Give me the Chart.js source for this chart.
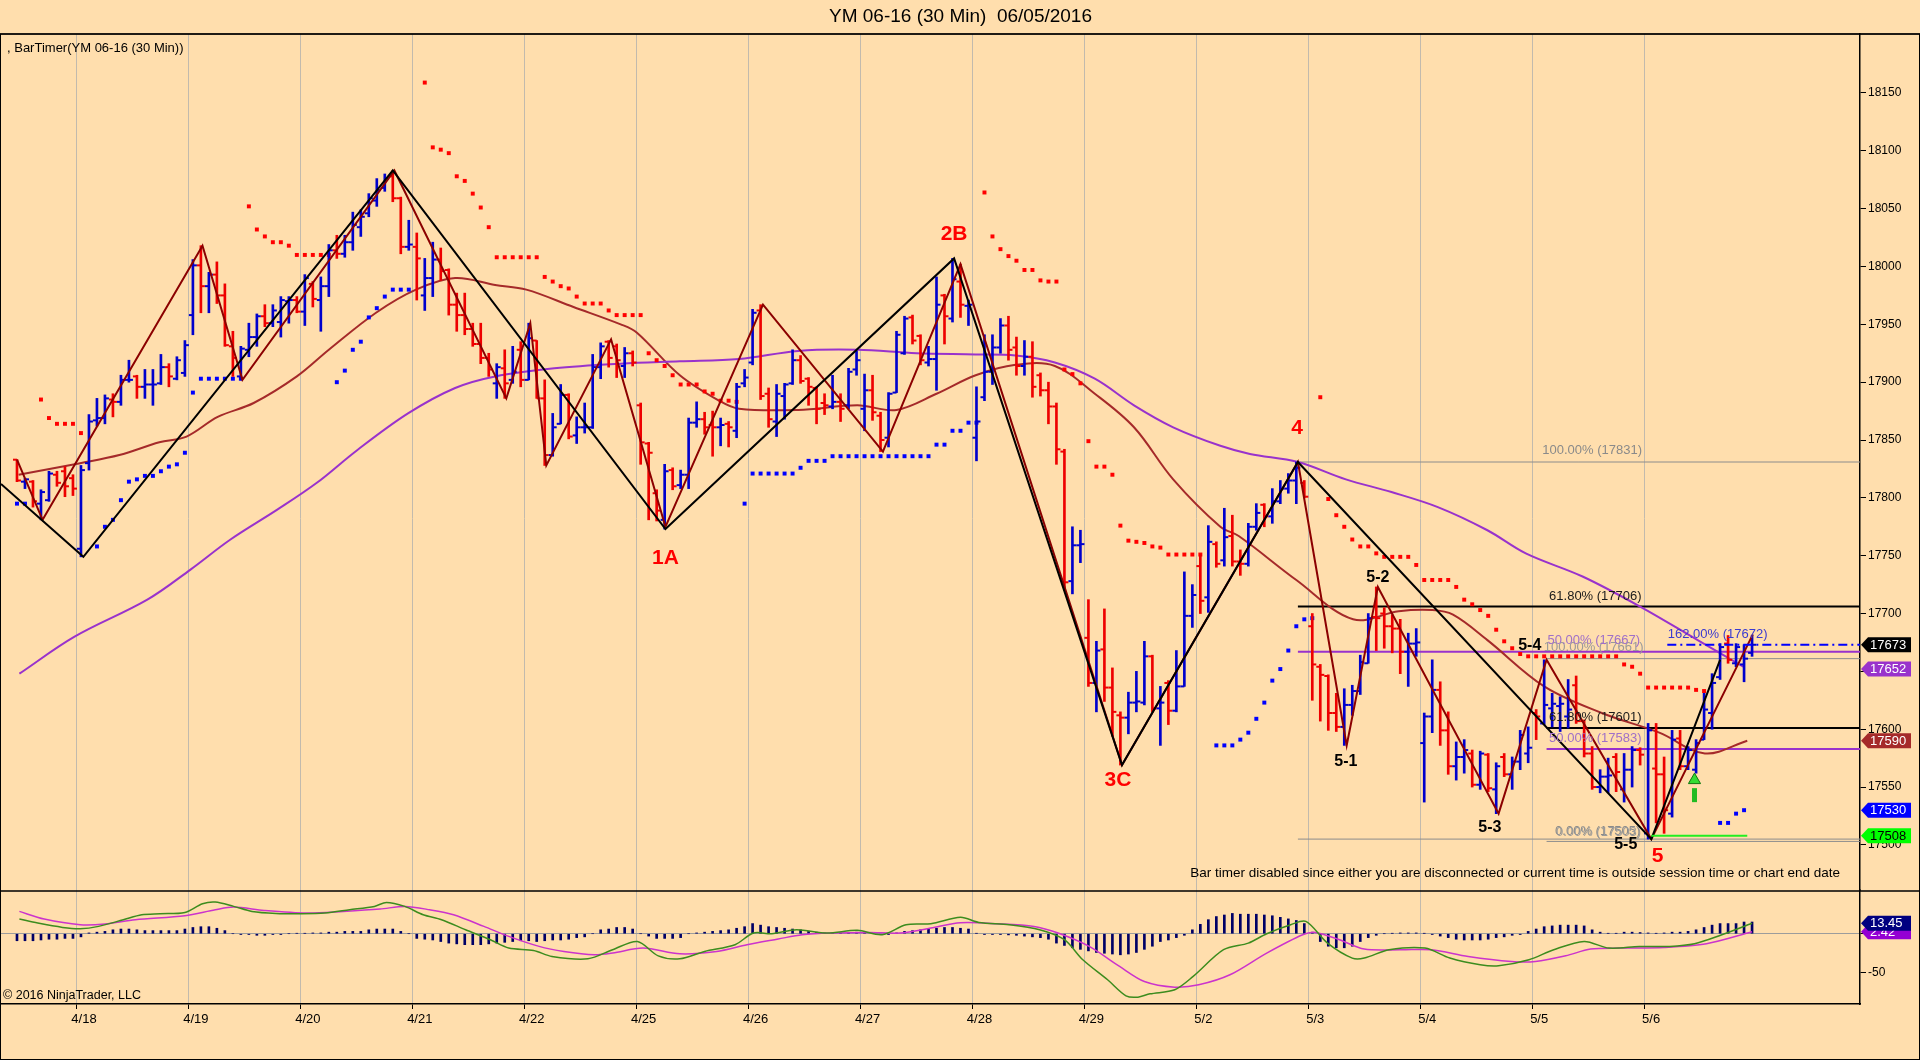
<!DOCTYPE html>
<html>
<head>
<meta charset="utf-8">
<title>YM 06-16 (30 Min)</title>
<script src="https://cdn.jsdelivr.net/npm/chart.js@4.4.1/dist/chart.umd.min.js"></script>
<style>
  html, body { margin: 0; padding: 0; background: #FFDEAD; overflow: hidden; }
  #wrap { position: relative; width: 1920px; height: 1060px; }
  canvas { display: block; }
</style>
</head>
<body>
<div id="wrap"><canvas id="chart" width="1920" height="1060"></canvas></div>
<script>
const FONT = '"Liberation Sans", Arial, sans-serif';
const UP = '#0000CD';
const DOWN = '#EE0000';

// x is the bar index (30 min bars, 14 per session, 4/15 tail = bars 0..9)
const dayLabels = ['4/18', '4/19', '4/20', '4/21', '4/22', '4/25', '4/26', '4/27', '4/28', '4/29', '5/2', '5/3', '5/4', '5/5', '5/6'];
const priceTicks = [17500, 17550, 17600, 17650, 17700, 17750, 17800, 17850, 17900, 17950, 18000, 18050, 18100, 18150];
const macdTicks = [0, -50];

const opens = [
  null, null, 17833, 17814, 17814, 17795, 17798, 17820, 17823, 17817,
  17756, 17830, 17867, 17869, 17885, 17883, 17902, 17905, 17896, 17898, 17899, 17913, 17903, 17908,
  17958, 18001, 17983, 17993, 17975, 17931, 17905, 17928, 17939, 17957, 17951, 17952, 17970, 17971,
  17961, 17985, 17971, 17983, 18014, 18011, 18021, 18034, 18046, 18057, 18068, 18078, 18059, 18017,
  18017, 17975, 17990, 18006, 17997, 17967, 17958, 17946, 17933, 17921, 17899, 17912, 17902, 17928,
  17902, 17936, 17886, 17837, 17864, 17889, 17854, 17861, 17861, 17913, 17935, 17931, 17914, 17925,
  17880, 17847, 17804, 17781, 17824, 17811, 17820, 17865, 17868, 17863, 17861, 17864, 17858, 17899,
  17917, 17962, 17890, 17866, 17888, 17899, 17919, 17903, 17895, 17882, 17879, 17883, 17880, 17911,
  17877, 17893, 17871, 17852, 17891, 17925, 17956, 17940, 17917, 17920, 17975, 17955, 17987, 17966,
  17852, 17887, 17909, 17930, 17949, 17930, 17914, 17922, 17906, 17893, 17879, 17840, 17728, 17759,
  17679, 17640, 17669, 17636, 17612, 17610, 17623, 17623, 17663, 17618, 17640, 17616, 17637, 17698,
  17741, 17714, 17760, 17746, 17767, 17745, 17743, 17775, 17794, 17784, 17797, 17808, 17815, 17813,
  17689, 17654, 17646, 17614, 17602, 17621, 17633, 17657, 17697, 17700, 17689, 17687, 17667, 17674,
  17588, 17611, 17634, 17599, 17568, 17576, 17579, 17552, 17578, 17548, 17576, 17561, 17572, 17579,
  17614, 17605, 17618, 17620, 17611, 17638, 17607, 17579, 17550, 17559, 17576, 17548, 17565, 17582,
  17510, 17566, 17561, 17527, 17592, 17568, 17565, 17591, 17614, 17645, 17674, 17657, 17656, 17666
];
const highs = [
  null, null, 17833, 17817, 17815, 17807, 17823, 17823, 17827, 17820,
  17828, 17872, 17886, 17889, 17890, 17906, 17919, 17906, 17911, 17911, 17924, 17916, 17922, 17936,
  18006, 18018, 17995, 18004, 17985, 17944, 17931, 17951, 17959, 17967, 17967, 17974, 17974, 17974,
  17993, 17987, 17991, 18019, 18027, 18027, 18047, 18049, 18063, 18076, 18080, 18083, 18060, 18040,
  18029, 18007, 18021, 18016, 17998, 17977, 17977, 17951, 17951, 17925, 17916, 17928, 17931, 17935,
  17951, 17936, 17902, 17873, 17898, 17890, 17870, 17882, 17924, 17934, 17936, 17933, 17930, 17927,
  17882, 17848, 17807, 17829, 17826, 17824, 17869, 17883, 17874, 17875, 17869, 17866, 17899, 17911,
  17963, 17967, 17895, 17898, 17899, 17928, 17923, 17904, 17896, 17890, 17906, 17890, 17912, 17927,
  17907, 17906, 17874, 17891, 17944, 17957, 17958, 17941, 17931, 17991, 17976, 18007, 18002, 17971,
  17896, 17941, 17941, 17955, 17957, 17939, 17936, 17935, 17908, 17900, 17882, 17842, 17775, 17772,
  17712, 17676, 17704, 17653, 17615, 17632, 17650, 17676, 17664, 17637, 17642, 17668, 17736, 17725,
  17751, 17776, 17762, 17791, 17785, 17755, 17778, 17795, 17795, 17808, 17815, 17821, 17831, 17815,
  17700, 17656, 17647, 17631, 17635, 17638, 17664, 17700, 17723, 17705, 17699, 17695, 17683, 17687,
  17614, 17660, 17641, 17615, 17589, 17591, 17582, 17581, 17579, 17571, 17579, 17576, 17599, 17602,
  17617, 17660, 17631, 17628, 17643, 17646, 17608, 17585, 17565, 17575, 17579, 17579, 17585, 17584,
  17605, 17605, 17576, 17599, 17599, 17585, 17591, 17631, 17648, 17674, 17681, 17674, 17673, 17681
];
const lows = [
  null, null, 17814, 17808, 17792, 17781, 17797, 17810, 17801, 17802,
  17749, 17824, 17862, 17864, 17870, 17880, 17900, 17886, 17886, 17880, 17898, 17896, 17902, 17905,
  17941, 17960, 17960, 17968, 17931, 17905, 17902, 17922, 17931, 17948, 17948, 17939, 17951, 17960,
  17949, 17965, 17944, 17974, 18007, 18008, 18014, 18026, 18043, 18052, 18065, 18056, 18011, 18014,
  17971, 17962, 17974, 17988, 17958, 17944, 17941, 17931, 17916, 17905, 17886, 17886, 17899, 17896,
  17902, 17886, 17828, 17836, 17864, 17851, 17847, 17856, 17860, 17903, 17913, 17904, 17904, 17914,
  17829, 17781, 17780, 17773, 17807, 17808, 17808, 17861, 17855, 17836, 17845, 17844, 17852, 17896,
  17915, 17885, 17861, 17853, 17868, 17898, 17899, 17880, 17864, 17872, 17877, 17866, 17877, 17906,
  17858, 17867, 17840, 17844, 17891, 17924, 17933, 17915, 17914, 17893, 17933, 17952, 17956, 17949,
  17832, 17884, 17898, 17925, 17919, 17906, 17906, 17887, 17888, 17864, 17829, 17720, 17717, 17744,
  17637, 17615, 17624, 17594, 17569, 17596, 17615, 17621, 17615, 17586, 17604, 17615, 17637, 17688,
  17700, 17701, 17740, 17741, 17741, 17733, 17741, 17772, 17775, 17778, 17795, 17804, 17795, 17800,
  17625, 17607, 17599, 17598, 17586, 17612, 17630, 17657, 17668, 17670, 17666, 17648, 17637, 17663,
  17537, 17597, 17586, 17561, 17556, 17562, 17550, 17548, 17546, 17527, 17559, 17548, 17565, 17571,
  17591, 17604, 17602, 17598, 17601, 17605, 17576, 17548, 17545, 17545, 17546, 17537, 17550, 17569,
  17505, 17519, 17510, 17524, 17565, 17565, 17562, 17591, 17600, 17643, 17657, 17654, 17641, 17663
];
const closes = [
  null, null, 17815, 17816, 17797, 17805, 17821, 17813, 17810, 17808,
  17824, 17866, 17869, 17886, 17883, 17902, 17902, 17896, 17898, 17898, 17913, 17905, 17919, 17932,
  18001, 17983, 17993, 17975, 17932, 17921, 17929, 17939, 17957, 17951, 17962, 17971, 17971, 17961,
  17990, 17972, 17983, 18014, 18011, 18021, 18036, 18043, 18059, 18066, 18076, 18059, 18017, 18019,
  18007, 17990, 18006, 17996, 17967, 17958, 17946, 17933, 17921, 17911, 17913, 17899, 17909, 17902,
  17938, 17886, 17837, 17861, 17889, 17853, 17861, 17861, 17913, 17931, 17921, 17919, 17925, 17917,
  17848, 17839, 17789, 17823, 17810, 17820, 17865, 17868, 17861, 17861, 17863, 17861, 17896, 17904,
  17960, 17888, 17868, 17890, 17898, 17919, 17901, 17896, 17877, 17880, 17883, 17877, 17909, 17919,
  17893, 17874, 17850, 17890, 17941, 17955, 17936, 17919, 17920, 17967, 17957, 17989, 17967, 17967,
  17866, 17909, 17930, 17949, 17928, 17914, 17922, 17896, 17893, 17879, 17842, 17727, 17759, 17760,
  17640, 17668, 17636, 17615, 17610, 17623, 17624, 17663, 17618, 17623, 17616, 17637, 17698, 17716,
  17711, 17762, 17743, 17766, 17745, 17743, 17775, 17787, 17784, 17797, 17808, 17815, 17826, 17801,
  17656, 17647, 17614, 17602, 17621, 17633, 17658, 17696, 17696, 17689, 17687, 17667, 17674, 17675,
  17611, 17634, 17599, 17568, 17576, 17582, 17552, 17579, 17549, 17568, 17561, 17572, 17595, 17584,
  17611, 17621, 17622, 17622, 17617, 17607, 17579, 17550, 17559, 17560, 17563, 17565, 17582, 17578,
  17599, 17561, 17530, 17591, 17568, 17582, 17588, 17617, 17640, 17671, 17660, 17671, 17661, 17673
];

// MACD histogram, one value per bar
const histogram = [
  null, null, -9, -9, -9, -8, -7, -7, -6, -6,
  -4, 1, 2, 3, 5, 6, 6, 5, 4, 4, 4, 4, 4, 6,
  8, 9, 9, 7, 4, 0, -1, -1, -2, -2, -1, -1, 0, 0.5,
  0.5, 1, 1, 2, 2, 3, 3, 3, 5, 6, 6, 6, 3, 0,
  -6, -7, -8, -10, -12, -13, -14, -14, -14, -13, -12, -11, -10, -9,
  -9, -10, -9, -8, -8, -7, -5, -4, 0, 5, 6, 8, 8, 6,
  0, -3, -6, -6, -6, -5, 0, 1, 2, 3, 4, 5, 7, 9,
  13, 11, 9, 8, 7, 6, 5, 3, 2, 1, 0.5, 0.5, 1, 2,
  1, 0.5, -1, -1, 1, 3, 4, 5, 6, 7, 8, 8, 7, 6,
  0.5, -1, -1, -1, -1.5, -2, -3, -4, -5, -7, -12, -15, -18, -20,
  -22, -24, -25, -26, -27, -26, -24, -20, -16, -10, -8, -5, -2, 5,
  12, 18, 22, 24, 26, 25, 25, 25, 24, 23, 21, 19, 17, 13,
  2, -10, -16, -18, -18, -16, -10, -5, -2, 0, 0.5, 1, 1, 1,
  0.5, -1, -3, -5, -7, -8, -8, -8, -7, -5, -4, -2, -1, 3,
  6, 9, 10, 11, 11, 11, 10, 5, 2, 0.5, 0.5, 2, 2, 1.5,
  1, 0.5, 1, 2, 2, 3, 5, 8, 11, 13, 13, 13, 15, 15
];

// parabolic SAR dots [bar, price]
const sarRed = [
  [5, 17885], [6, 17869], [7, 17864], [8, 17864], [9, 17864], [10, 17856],
  [31, 18052], [32, 18032], [33, 18026], [34, 18021], [35, 18021], [36, 18018], [37, 18010], [38, 18010], [39, 18010], [40, 18010], [41, 18010],
  [53, 18159], [54, 18103], [55, 18101], [56, 18098], [57, 18078], [58, 18074], [59, 18063], [60, 18051], [61, 18034],
  [62, 18008], [63, 18008], [64, 18008], [65, 18008], [66, 18008], [67, 18008], [68, 17991], [69, 17987], [70, 17983],
  [71, 17981], [72, 17974], [73, 17968], [74, 17968], [75, 17968], [76, 17962], [77, 17958], [78, 17958], [79, 17958],
  [80, 17958], [81, 17925], [82, 17919], [83, 17914], [84, 17906], [85, 17898], [86, 17898], [87, 17898], [88, 17892],
  [89, 17890], [90, 17884], [91, 17884], [92, 17883],
  [123, 18064], [124, 18026], [125, 18015], [126, 18009], [127, 18005], [128, 17997], [129, 17997], [130, 17988],
  [131, 17987], [132, 17987], [133, 17911], [134, 17907], [135, 17899], [136, 17849], [137, 17827], [138, 17827],
  [139, 17820], [140, 17776], [141, 17763], [142, 17762], [143, 17761], [144, 17758], [145, 17757], [146, 17751],
  [147, 17751], [148, 17751], [149, 17751], [150, 17751],
  [165, 17887], [166, 17799], [167, 17785], [168, 17775], [169, 17764], [170, 17758], [171, 17758], [172, 17752],
  [173, 17749], [174, 17749], [175, 17749], [176, 17749], [177, 17742], [178, 17729], [179, 17729], [180, 17729],
  [181, 17729], [182, 17723], [183, 17712], [184, 17708], [185, 17703], [186, 17698], [187, 17686], [188, 17676],
  [189, 17670], [190, 17665], [191, 17663], [192, 17663], [193, 17663], [194, 17663], [195, 17663], [196, 17663],
  [197, 17663], [198, 17663], [199, 17663], [200, 17663], [201, 17663], [202, 17663], [203, 17656], [204, 17654],
  [205, 17648], [206, 17636], [207, 17636], [208, 17636], [209, 17636], [210, 17636], [211, 17636], [212, 17634], [213, 17633]
];
const sarBlue = [
  [2, 17795], [3, 17795],
  [12, 17758], [13, 17775], [14, 17781], [15, 17798], [16, 17814], [17, 17816], [18, 17819], [19, 17819], [20, 17823],
  [21, 17827], [22, 17829], [23, 17839], [24, 17891], [25, 17903], [26, 17903], [27, 17903], [28, 17903], [29, 17903], [30, 17903],
  [42, 17900], [43, 17910], [44, 17928], [45, 17935], [46, 17956], [47, 17964], [48, 17974], [49, 17980], [50, 17980], [51, 17980],
  [93, 17795], [94, 17821], [95, 17821], [96, 17821], [97, 17821], [98, 17821], [99, 17821], [100, 17826], [101, 17832],
  [102, 17832], [103, 17832], [104, 17836], [105, 17836], [106, 17836], [107, 17836], [108, 17836], [109, 17836],
  [110, 17836], [111, 17836], [112, 17836], [113, 17836], [114, 17836], [115, 17836], [116, 17836], [117, 17846],
  [118, 17846], [119, 17858], [120, 17858], [121, 17865], [122, 17865],
  [152, 17586], [153, 17586], [154, 17586], [155, 17591], [156, 17597], [157, 17609], [158, 17623], [159, 17642],
  [160, 17652], [161, 17668], [162, 17689], [163, 17695], [164, 17696],
  [215, 17519], [216, 17519], [217, 17527], [218, 17530]
];

// moving averages [bar, price]
const maFast = [
  [2.2, 17820], [9.9, 17830], [14.8, 17837], [19.8, 17848], [23.2, 17853], [27.1, 17870], [31.6, 17882], [37, 17905],
  [41, 17928], [46.9, 17960], [51.9, 17980], [56.8, 17990], [61.8, 17984], [65.7, 17980], [71.6, 17965], [77.5, 17950],
  [79.5, 17943], [84.9, 17906], [89.8, 17884], [92.3, 17877], [99.7, 17876], [107.1, 17880], [112, 17876], [117, 17890],
  [121.9, 17906], [126.9, 17915], [131.8, 17914], [136.8, 17890], [141.7, 17861], [146.6, 17816], [152.5, 17775],
  [154.8, 17767], [162, 17729], [169.1, 17695], [174.8, 17702], [179, 17703], [181.6, 17699], [185.9, 17677],
  [193, 17637], [200.2, 17614], [207.4, 17597], [213.1, 17579], [218.4, 17590]
];
const maSlow = [
  [2.3, 17648], [9.2, 17680], [18.3, 17712], [23.7, 17738], [28.7, 17764], [34.6, 17790], [39.5, 17813], [44.5, 17841],
  [50.9, 17873], [56.8, 17895], [61.8, 17905], [69.2, 17912], [77.5, 17916], [84.9, 17918], [92.3, 17920], [99.7, 17927],
  [107.1, 17928], [114.5, 17925], [121.9, 17924], [126.9, 17923], [131.8, 17917], [136.8, 17903], [141.7, 17880],
  [146.6, 17861], [152.5, 17845], [156.2, 17838], [162.2, 17831], [168.2, 17816], [173.9, 17805], [179.7, 17792],
  [185.9, 17772], [190.7, 17752], [197.8, 17732], [205, 17706], [212.2, 17677], [217.9, 17654]
];

// swing lines [bar, price]
const swingMajor = [
  [0, 17812], [10.3, 17749], [49, 18083], [83.1, 17773], [119.2, 18007], [140.2, 17569], [162.2, 17831], [206.4, 17505], [215, 17660]
];
const swingMinor = [
  [2, 17833], [5.2, 17781], [25.2, 18018], [30.2, 17902], [49.2, 18083], [63.2, 17886], [66.2, 17951], [68.2, 17828],
  [76.3, 17937], [83.1, 17775], [95.3, 17967], [110.3, 17840], [120, 18002], [140.2, 17569], [162.2, 17831],
  [168.3, 17586], [172.2, 17723], [187.3, 17527], [193.3, 17660], [206.4, 17505], [219.1, 17682]
];

// fibonacci retracements: start bar + levels (100%, 61.8%, 50%, 0%)
const fibStartA = 162.2;
const fibLevelsA = [17831, 17706, 17667, 17505];
const fibStartB = 193.3;
const fibLevelsB = [17661, 17601, 17583, 17503];
const extensionLine = [[208.4, 17673], [232.5, 17673]];
const supportLine = [[206.4, 17508], [218.4, 17508]];
const arrowBar = 211.8;
const arrowPrices = [17543, 17556];

const fibText = ['100.00% (17831)', '61.80% (17706)', '100.00% (17661)', '50.00% (17667)', '61.80% (17601)', '50.00% (17583)', '0.00% (17505)', '0.00% (17503)', '162.00% (17672)'];
const fibTextBar = [199, 199.4, 199.2, 199.2, 199.4, 199.4, 199.7, 199.8, 214.7];
const fibTextPrice = [17841, 17715, 17671, 17677, 17610, 17592, 17512, 17511, 17682];

const waveText = ['1A', '2B', '3C', '4', '5'];
const waveBar = [83.1, 119.2, 139.7, 162.1, 207.2];
const wavePrice = [17748, 18028, 17556, 17860, 17490];
const subWaveText = ['5-1', '5-2', '5-3', '5-4', '5-5'];
const subWaveBar = [168.2, 172.2, 186.2, 191.2, 203.2];
const subWavePrice = [17572, 17731, 17515, 17672, 17500];

// last-value markers on the price axis and on the MACD axis
const flagValues = [17652, 17590, 17530, 17508, 17673];
const macdFlagValues = [2.42, 13.45];

// MACD and signal lines [bar, value]
const macdLine = [
  [2.3, 18.8], [4.6, 13.6], [7.7, 8.1], [9.9, 6.4], [12.2, 9.4], [15.3, 17.9], [17.6, 24.3], [19.9, 25.6], [23, 27.3],
  [25.2, 38.4], [26.8, 40.6], [29.1, 35], [31.4, 28.6], [34.4, 26], [37.5, 25.6], [40.5, 26.5], [43.6, 30.7], [46.7, 35],
  [48.2, 40.1], [50.5, 35], [52.8, 24.3], [55.1, 17.9], [58.1, 5.1], [61.2, -7.7], [63.5, -18.4], [66.6, -21.4],
  [68.9, -29.1], [73.4, -32.1], [76.5, -20.5], [79.6, -9.9], [82.2, -28.3], [84.9, -32.1], [88, -22.7], [91.8, -14.1],
  [94.1, 0.9], [96.4, 0], [99.5, 5.1], [103.3, 0.9], [107.1, 4.3], [110.2, -1.3], [113.2, 11.5], [116.3, 12.8],
  [120, 21], [122.3, 14.5], [126.1, 11.5], [129.9, 5.1], [133, -7.7], [135.3, -33.4], [138.4, -59], [140.7, -79.5],
  [142.2, -81.2], [143.7, -77], [146.8, -71.8], [149.1, -54.7], [152.9, -20.5], [156, -12], [158.3, 0], [161.3, 11.5],
  [163.2, 15.8], [165.9, -12], [169, -31.2], [170.5, -31.2], [173.6, -20.5], [178.1, -18.4], [181.2, -31.2],
  [185, -39.8], [187.3, -41.1], [191.1, -33.4], [194.2, -20.5], [198, -9.9], [201.1, -18.4], [204.9, -16.3],
  [208.7, -16.3], [211.8, -12.9], [214.9, -2.6], [219, 13.45]
];
const signalLine = [
  [2.3, 28.6], [5.4, 18.8], [9.9, 11.5], [13, 12.4], [16.8, 17.9], [23, 23], [26.8, 30.7], [29.1, 34.2], [32.9, 29.9],
  [38.3, 26.5], [42.8, 28.6], [47.4, 31.6], [50.5, 35], [53.6, 30.7], [56.6, 24.3], [60.4, 9.4], [63.5, -3.4],
  [67.3, -16.2], [70.4, -22.7], [74.2, -27], [76.5, -24.8], [80.3, -18.4], [84.9, -25.7], [89.5, -22.7], [93.3, -14.1],
  [97.2, -6.8], [100.2, -1.3], [104, 0.9], [108.6, 1.7], [112.5, 0.9], [116.3, 7.3], [120, 14], [124.6, 12.8],
  [129.2, 9.4], [132.2, 0.9], [136.1, -16.3], [139.9, -41.9], [143, -61.2], [146.8, -68.4], [149.8, -65.4],
  [153.7, -52.6], [158.3, -24.8], [162.8, -1.3], [164.4, 1.7], [167.4, -7.7], [170.5, -19.7], [175.1, -20.5],
  [178.9, -20.5], [183.5, -29.1], [188.9, -35.5], [191.9, -35.5], [195.7, -28.3], [198.8, -19.7], [202.6, -18.4],
  [208, -17.6], [213.3, -12.9], [219, 2.42]
];

// ---- styles ----
const fibTextColor = ['#8a8a8a', '#1a1a1a', '#9a9a9a', '#a070c8', '#1a1a1a', '#a070c8', '#8a8a8a', '#9a9a9a', '#3a3ad0'];
const flagBg = ['#9932CC', '#A52A2A', '#0000FF', '#00FF00', '#000000'];
const flagFg = ['#FFFFFF', '#FFFFFF', '#FFFFFF', '#000000', '#FFFFFF'];
const macdFlagBg = ['#9400D3', '#000080'];
const fibLineColor = ['#8c8c8c', '#000000', '#9932CC', '#8c8c8c'];
const fibLineWidth = [1, 2, 2, 1];

const X_MAX = 232.5;
const dayGrid = dayLabels.map((_, d) => 9.5 + 14 * d);
const pts = arr => arr.map(([x, y]) => ({ x, y }));
const barColor = i => (closes[i] >= opens[i] ? UP : DOWN);
const pick = ctx => (ctx.raw ? barColor(ctx.raw.x) : UP);

const barIdx = opens.map((o, i) => (o === null ? -1 : i)).filter(i => i >= 0);

function fibDatasets(start, levels) {
  return levels.map((lv, k) => ({
    type: 'line',
    data: [{ x: start, y: lv }, { x: X_MAX, y: lv }],
    borderColor: fibLineColor[k],
    borderWidth: fibLineWidth[k],
    pointRadius: 0,
    order: 10
  }));
}

function drawFlag(ctx, left, yPix, text, bg, fg) {
  ctx.beginPath();
  ctx.moveTo(left + 1, yPix);
  ctx.lineTo(left + 8, yPix - 7.5);
  ctx.lineTo(left + 51, yPix - 7.5);
  ctx.lineTo(left + 51, yPix + 7.5);
  ctx.lineTo(left + 8, yPix + 7.5);
  ctx.closePath();
  ctx.fillStyle = bg;
  ctx.fill();
  ctx.fillStyle = fg;
  ctx.textAlign = 'left';
  ctx.textBaseline = 'middle';
  ctx.fillText(text, left + 10, yPix + 0.5);
}

const overlay = {
  id: 'overlay',
  afterDatasetsDraw(chart) {
    const { ctx, scales: { x, y, y2 } } = chart;
    ctx.save();
    ctx.textAlign = 'center';
    ctx.textBaseline = 'middle';

    // fib level captions
    ctx.font = '13px ' + FONT;
    fibText.forEach((t, k) => {
      ctx.fillStyle = fibTextColor[k];
      ctx.fillText(t, x.getPixelForValue(fibTextBar[k]), y.getPixelForValue(fibTextPrice[k]));
    });

    // wave labels
    ctx.font = 'bold 21px ' + FONT;
    ctx.fillStyle = '#FF0000';
    waveText.forEach((t, k) => {
      ctx.fillText(t, x.getPixelForValue(waveBar[k]), y.getPixelForValue(wavePrice[k]));
    });
    ctx.font = 'bold 16px ' + FONT;
    ctx.fillStyle = '#000000';
    subWaveText.forEach((t, k) => {
      ctx.fillText(t, x.getPixelForValue(subWaveBar[k]), y.getPixelForValue(subWavePrice[k]));
    });

    // panel captions
    ctx.textAlign = 'left';
    ctx.font = '13px ' + FONT;
    ctx.fillStyle = '#000';
    ctx.fillText(', BarTimer(YM 06-16 (30 Min))', x.left + 6, y.top + 14);
    ctx.font = '12.5px ' + FONT;
    ctx.fillText('\u00A9 2016 NinjaTrader, LLC', x.left + 2, y2.bottom - 8);
    ctx.textAlign = 'right';
    ctx.font = '13.5px ' + FONT;
    ctx.fillText('Bar timer disabled since either you are disconnected or current time is outside session time or chart end date', x.right - 20, y.bottom - 17);

    // axis value flags
    ctx.font = '13px ' + FONT;
    flagValues.forEach((v, k) => drawFlag(ctx, x.right, y.getPixelForValue(v), String(v), flagBg[k], flagFg[k]));
    macdFlagValues.forEach((v, k) => drawFlag(ctx, x.right, y2.getPixelForValue(v), v.toFixed(2), macdFlagBg[k], '#FFFFFF'));
    ctx.restore();
  },
  afterDraw(chart) {
    const { ctx, width, height, scales: { y } } = chart;
    ctx.save();
    ctx.strokeStyle = '#000';
    ctx.lineWidth = 1.5;
    ctx.beginPath();
    ctx.moveTo(0, y.top);
    ctx.lineTo(width, y.top);
    ctx.moveTo(0, y.bottom + 1);
    ctx.lineTo(width, y.bottom + 1);
    ctx.stroke();
    ctx.lineWidth = 1;
    ctx.strokeRect(0.5, y.top, width - 1, height - y.top - 0.5);
    ctx.restore();
  }
};

const datasets = [
  ...fibDatasets(fibStartA, fibLevelsA),
  ...fibDatasets(fibStartB, fibLevelsB),
  {
    type: 'line', data: pts(maSlow), borderColor: '#9932CC', borderWidth: 2,
    pointRadius: 0, tension: 0.35, order: 8
  },
  {
    type: 'line', data: pts(maFast), borderColor: '#A52A2A', borderWidth: 2,
    pointRadius: 0, tension: 0.35, order: 8
  },
  {
    type: 'line', data: pts(sarRed), showLine: false, pointStyle: 'rect',
    pointRadius: 2.8, pointBorderWidth: 0, pointBackgroundColor: '#FF0000', order: 7
  },
  {
    type: 'line', data: pts(sarBlue), showLine: false, pointStyle: 'rect',
    pointRadius: 2.8, pointBorderWidth: 0, pointBackgroundColor: '#0000FF', order: 7
  },
  {
    type: 'bar', data: barIdx.map(i => ({ x: i, y: [lows[i], highs[i]] })),
    backgroundColor: pick, grouped: false, barThickness: 2, maxBarThickness: 2, order: 6
  },
  {
    // open ticks (left)
    type: 'line', data: barIdx.map(i => ({ x: i, y: opens[i] })), showLine: false,
    pointStyle: 'dash', pointRotation: 180, pointRadius: 4, pointBorderWidth: 2,
    pointBorderColor: pick, pointBackgroundColor: pick, order: 5
  },
  {
    // close ticks (right)
    type: 'line', data: barIdx.map(i => ({ x: i, y: closes[i] })), showLine: false,
    pointStyle: 'dash', pointRotation: 0, pointRadius: 4, pointBorderWidth: 2,
    pointBorderColor: pick, pointBackgroundColor: pick, order: 5
  },
  {
    type: 'line', data: pts(swingMinor), borderColor: '#8B0000', borderWidth: 2,
    pointRadius: 0, tension: 0, order: 4
  },
  {
    type: 'line', data: pts(swingMajor), borderColor: '#000000', borderWidth: 2,
    pointRadius: 0, tension: 0, order: 3
  },
  {
    type: 'line', data: pts(extensionLine), borderColor: '#0000FF', borderWidth: 2,
    borderDash: [9, 4, 2, 4], pointRadius: 0, order: 2
  },
  {
    type: 'line', data: pts(supportLine), borderColor: '#22EE22', borderWidth: 2,
    pointRadius: 0, order: 2
  },
  {
    type: 'line', data: arrowPrices.map(p => ({ x: arrowBar, y: p })), showLine: false,
    pointStyle: ['line', 'triangle'], pointRotation: [90, 0], pointRadius: [7, 7],
    pointBorderWidth: [5, 1], pointBorderColor: ['#22BB22', '#117711'],
    pointBackgroundColor: '#33DD33', order: 1
  },
  // MACD panel
  {
    type: 'bar', yAxisID: 'y2',
    data: histogram.map((h, i) => (h === null ? null : { x: i, y: h })).filter(Boolean),
    backgroundColor: '#000066', grouped: false, barThickness: 2, maxBarThickness: 2, order: 9
  },
  {
    type: 'line', yAxisID: 'y2', data: pts(signalLine), borderColor: '#CC33CC', borderWidth: 1.5,
    pointRadius: 0, tension: 0.3, order: 2
  },
  {
    type: 'line', yAxisID: 'y2', data: pts(macdLine), borderColor: '#3C8C1E', borderWidth: 1.5,
    pointRadius: 0, tension: 0.3, order: 1
  }
];

new Chart(document.getElementById('chart'), {
  data: { datasets },
  options: {
    responsive: false,
    devicePixelRatio: 1,
    animation: false,
    events: [],
    layout: { autoPadding: false, padding: { left: 1, right: 0, top: 0, bottom: 0 } },
    plugins: {
      legend: { display: false },
      tooltip: { enabled: false },
      title: {
        display: true,
        text: 'YM 06-16 (30 Min)  06/05/2016',
        color: '#000',
        font: { family: FONT, size: 19, weight: 'normal' },
        padding: { top: 5.6, bottom: 5.6 }
      }
    },
    scales: {
      x: {
        type: 'linear',
        min: 0,
        max: X_MAX,
        bounds: 'data',
        offset: false,
        afterBuildTicks: s => { s.ticks = dayGrid.map(v => ({ value: v })); },
        afterFit: s => {
          s.height = 56;
          s.paddingLeft = 0;
          s.paddingRight = 0;
        },
        ticks: {
          autoSkip: false,
          maxRotation: 0,
          labelOffset: 7,
          padding: 3,
          color: '#000',
          font: { family: FONT, size: 13 },
          callback: (v, i) => dayLabels[i]
        },
        grid: { offset: false, color: '#c2baad', lineWidth: 1, tickColor: '#000', tickLength: 5 },
        border: { display: true, color: '#000', width: 1.5 }
      },
      y: {
        type: 'linear',
        position: 'right',
        stack: 'panes',
        stackWeight: 856,
        min: 17461,
        max: 18201,
        afterBuildTicks: s => { s.ticks = priceTicks.map(v => ({ value: v })); },
        afterFit: s => { s.width = 60; },
        ticks: { color: '#000', padding: 2, font: { family: FONT, size: 12 }, callback: v => String(v) },
        grid: { drawOnChartArea: false, tickColor: '#000', tickLength: 6 },
        border: { display: true, color: '#000', width: 1.5 }
      },
      y2: {
        type: 'linear',
        position: 'right',
        stack: 'panes',
        stackWeight: 114,
        min: -90,
        max: 56,
        afterBuildTicks: s => { s.ticks = macdTicks.map(v => ({ value: v })); },
        afterFit: s => { s.width = 60; },
        ticks: {
          color: '#000', padding: 2, font: { family: FONT, size: 12 },
          callback: v => (v === 0 ? '' : String(v))
        },
        grid: {
          color: ctx => (ctx.tick && ctx.tick.value === 0 ? '#9c9c9c' : 'rgba(0,0,0,0)'),
          tickColor: '#000',
          tickLength: 6
        },
        border: { display: true, color: '#000', width: 1.5 }
      }
    }
  },
  plugins: [overlay]
});
</script>
</body>
</html>
